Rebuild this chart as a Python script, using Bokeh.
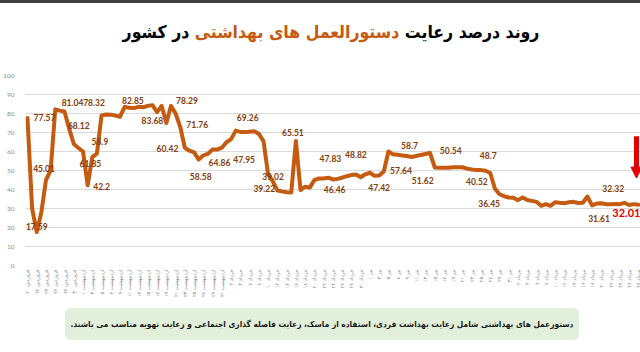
import math
from bokeh.plotting import figure
from bokeh.models import Range1d, FixedTicker, Arrow, NormalHead, ColumnDataSource, Div
from bokeh.layouts import column
from bokeh.embed import file_html
from bokeh.resources import INLINE
from bokeh.core.properties import value

# ---------------- data ----------------
compliance = [
    77.57, 30, 17.59, 28, 45.01, 50, 82.2, 81.5, 81.04, 72,
    64, 61.85, 60, 42.2, 57, 58.9, 79, 79.5, 79.4, 78.9,
    78.32, 83.5, 83, 82.85, 83.5, 83.3, 84, 84.4, 80.7, 84,
    75, 84, 80, 73, 62, 60.42, 59.5, 55.7, 58, 58.8,
    61, 61, 62, 64.86, 66.5, 71, 70.3, 70.2, 70.4, 70.6,
    69.3, 65.5, 47.95, 44.4, 39.5, 39.02, 38.6, 38.4, 65.51, 39.7,
    41.5, 41, 45, 45.8, 45.8, 46.2, 45.3, 45.6, 46.2, 47,
    47.6, 47.9, 46.46, 48, 48.82, 47.2, 47.42, 49.5, 60, 58.5,
    58.3, 57.9, 57.64, 57.1, 57.6, 58.2, 58.7, 59.2, 51.62, 51.4,
    51.4, 51.5, 51.7, 51.7, 51.7, 51, 50.54, 50.3, 50.2, 49.9,
    48.7, 40.52, 37.5, 36.45, 35.8, 35.7, 34.4, 35.8, 34.5, 34,
    33.5, 31.4, 32.3, 31.4, 33.3, 33, 32.8, 33.3, 33.5, 32.9,
    33, 36.3, 31.61, 32.6, 32.8, 32.3, 32.3, 32.32, 32.3, 33,
    31.8, 32.3, 32.01,
]

tick_labels = [
    "۲۰ فروردین", "۲۲ فروردین", "۲۴ فروردین", "۲۶ فروردین", "۲۸ فروردین", "۳۰ فروردین",
    "۱ اردیبهشت", "۳ اردیبهشت", "۵ اردیبهشت", "۷ اردیبهشت", "۹ اردیبهشت", "۱۱ اردیبهشت",
    "۱۳ اردیبهشت", "۱۵ اردیبهشت", "۱۷ اردیبهشت", "۱۹ اردیبهشت", "۲۱ اردیبهشت", "۲۳ اردیبهشت",
    "۲۵ اردیبهشت", "۲۷ اردیبهشت", "۲۹ اردیبهشت", "۳۱ اردیبهشت",
    "۲ خرداد", "۴ خرداد", "۶ خرداد", "۸ خرداد", "۱۰ خرداد", "۱۲ خرداد", "۱۴ خرداد", "۱۶ خرداد",
    "۱۸ خرداد", "۲۰ خرداد", "۲۲ خرداد", "۲۴ خرداد", "۲۶ خرداد", "۲۸ خرداد", "۳۰ خرداد",
    "۱ تیر", "۳ تیر", "۵ تیر", "۷ تیر", "۹ تیر", "۱۱ تیر", "۱۳ تیر", "۱۵ تیر",
    "۱۷ تیر", "۱۹ تیر", "۲۱ تیر", "۲۳ تیر", "۲۵ تیر", "۲۷ تیر", "۲۹ تیر", "۳۱ تیر",
    "۲ مرداد", "۴ مرداد", "۶ مرداد", "۸ مرداد", "۱۰ مرداد", "۱۲ مرداد", "۱۴ مرداد",
    "۱۶ مرداد", "۱۸ مرداد", "۲۰ مرداد", "۲۲ مرداد", "۲۴ مرداد", "۲۶ مرداد", "۲۸ مرداد",
]

y_ticks = [0, 10, 20, 30, 40, 50, 60, 70, 80, 90, 100]

label_idx = [0, 2, 4, 8, 10, 11, 13, 15, 20, 23, 27, 31, 33, 35, 37, 43, 45, 52, 55, 57,
             58, 70, 72, 74, 76, 82, 86, 88, 96, 100, 101, 103, 122, 127]
label_text = ["77.57", "17.59", "45.01", "81.04", "68.12", "61.85", "42.2", "58.9", "78.32", "82.85",
              "83.68", "78.29", "71.76", "60.42", "58.58", "64.86", "69.26", "47.95", "39.02", "39.22",
              "65.51", "47.83", "46.46", "48.82", "47.42", "57.64", "58.7", "51.62", "50.54", "48.7",
              "40.52", "36.45", "31.61", "32.32"]
# label offsets in screen pixels (style)
label_dx = [17, 0, -2, 8, 5, 12, 14, 3, -26, -1, 0, 16, 17, -22, 2, -7, 12, -24, -9, -27,
            -3, -21, -26, -14, 0, -6, -16, -12, -21, -2, -18, -15, 7, -2]
label_dy = [-1, -6, -11, -9, -18, 16, 1, -12, -14, -8, 15, -5, -2, -2, 17, 20, -13, -15, -15, -4,
            -9, -17, 12, -18, 12, 15, -8, 13, -19, -17, -7, 7, 13, -16]

last_text = "32.01"

title_right = "روند درصد رعایت"
title_mid = "دستورالعمل های بهداشتی"
title_left = "در کشور"
note_text = "دستورعمل های بهداشتی شامل رعایت بهداشت فردی، استفاده از ماسک، رعایت فاصله گذاری اجتماعی و رعایت تهویه مناسب می باشند."

LINE_COLOR = "#C55A11"
LABEL_COLOR = "#843C0C"
RED = "#E00000"
AR_FONT = "DejaVu Sans"
AR_CSS = "'DejaVu Sans Condensed','DejaVu Sans',sans-serif"

# ---------------- title (HTML, right-to-left) ----------------
title_html = (
    '<div style="box-sizing:border-box;width:640px;height:62px;border-top:3px solid #3F3F3F;'
    'padding:18px 0 0 22px;text-align:center;direction:rtl;white-space:nowrap;'
    f'font-family:{AR_CSS};font-stretch:condensed;font-weight:bold;font-size:17.5px;line-height:22px;">'
    f'<span style="color:#000000">{title_right}</span> '
    f'<span style="color:{LINE_COLOR}">{title_mid}</span> '
    f'<span style="color:#000000">{title_left}</span></div>'
)
top = Div(text=title_html, width=640, height=62, margin=0)

# ---------------- main chart ----------------
n = len(compliance)
xs = list(range(n))
main = figure(width=640, height=238, x_range=Range1d(-0.43, n - 1 + 0.47), y_range=Range1d(0, 100),
              output_backend="svg", toolbar_location=None,
              min_border_left=18, min_border_right=0, min_border_top=13, min_border_bottom=33,
              outline_line_color=None, margin=0)
main.xgrid.visible = False
main.ygrid.ticker = FixedTicker(ticks=y_ticks)
main.ygrid.grid_line_color = "#D9D9D9"
main.ygrid.grid_line_width = 1

main.yaxis.ticker = FixedTicker(ticks=y_ticks)
main.yaxis.axis_line_color = None
main.yaxis.major_tick_line_color = None
main.yaxis.minor_tick_line_color = None
main.yaxis.major_label_standoff = 5
main.yaxis.major_label_text_font = "Lato"
main.yaxis.major_label_text_font_size = "6.5px"
main.yaxis.major_label_text_color = "#8C8C8C"

xt = list(range(0, n, 2))
main.xaxis.ticker = FixedTicker(ticks=xt)
main.xaxis.major_label_overrides = {t: tick_labels[k] for k, t in enumerate(xt)}
main.xaxis.major_label_orientation = math.pi / 2
main.xaxis.axis_line_color = None
main.xaxis.major_tick_line_color = None
main.xaxis.minor_tick_line_color = None
main.xaxis.major_tick_out = 0
main.xaxis.major_label_standoff = 4
main.xaxis.major_label_text_font = AR_FONT
main.xaxis.major_label_text_font_size = "5px"
main.xaxis.major_label_text_color = "#7F7F7F"

main.line(xs, compliance, line_color=LINE_COLOR, line_width=4, line_join="round", line_cap="round")

src = ColumnDataSource(dict(x=label_idx, y=[compliance[i] for i in label_idx], text=label_text,
                            dx=label_dx, dy=label_dy))
main.text(x="x", y="y", text="text", x_offset="dx", y_offset="dy", source=src,
          text_font=value("Lato"), text_font_style="bold", text_font_size="8.5px",
          text_color=LABEL_COLOR, text_align="center", text_baseline="middle")

main.text(x=[n - 1], y=[compliance[-1]], text=[last_text], x_offset=-12, y_offset=8,
          text_font=value("Lato"), text_font_style="bold", text_font_size="11px",
          text_color=RED, text_align="center", text_baseline="middle")

main.add_layout(Arrow(x_start=n - 1 - 0.4, y_start=compliance[-1] + 36,
                      x_end=n - 1 - 0.4, y_end=compliance[-1] + 14,
                      line_color=RED, line_width=5,
                      end=NormalHead(size=11, fill_color=RED, line_color=RED)))

# ---------------- footer (HTML, right-to-left) ----------------
foot_html = (
    '<div style="box-sizing:border-box;width:640px;height:52px;padding-top:8px;">'
    '<div style="box-sizing:border-box;margin-left:65px;width:514px;height:32px;background:#E2EFDA;'
    'border-radius:6px;text-align:center;direction:rtl;white-space:nowrap;'
    f'font-family:{AR_CSS};font-stretch:condensed;font-weight:bold;font-size:8.3px;line-height:32px;color:#1A1A1A;">'
    f'{note_text}</div></div>'
)
foot = Div(text=foot_html, width=640, height=52, margin=0)

layout = column(top, main, foot, spacing=0)
open("out.html", "w").write(file_html(layout, INLINE))
